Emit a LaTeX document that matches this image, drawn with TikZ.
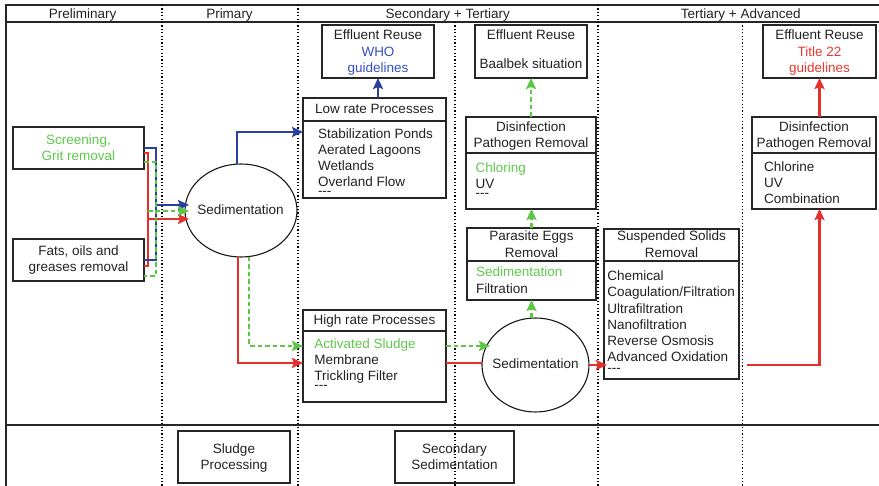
\documentclass[tikz,border=0pt]{standalone}
\usepackage{fontspec}
\setmainfont{Liberation Sans}
\usetikzlibrary{arrows.meta,shapes.geometric}
\definecolor{cblue}{HTML}{2B3F9F}
\definecolor{cred}{HTML}{E3302A}
\definecolor{cgreen}{HTML}{5BC743}
\definecolor{tblue}{HTML}{3550BE}
\definecolor{tred}{HTML}{E8382E}
\definecolor{tgreen}{HTML}{5DC94B}
\definecolor{txtc}{HTML}{222222}
\newcommand{\fsz}{\fontsize{13.5}{16.3}\selectfont}
\begin{document}
\begin{tikzpicture}[x=1pt,y=-1pt,
  frame/.style={draw=black!85, line width=1.2pt},
  dots/.style={draw=black, line width=1.1pt, dash pattern=on 1.2pt off 2.2pt},
  box/.style={draw=black!85, line width=1.2pt, inner sep=0pt, outer sep=0pt},
  sedbox/.style={ellipse, draw=black!90, line width=1.1pt, inner sep=0pt, outer sep=0pt},
  lbl/.style={inner sep=0pt, outer sep=0pt, anchor=base, align=center, font=\fsz, text=txtc},
  lbll/.style={inner sep=0pt, outer sep=0pt, anchor=base west, align=left, font=\fsz, text=txtc},
  bl/.style={draw=cblue, line width=2.6pt},
  rd/.style={draw=cred, line width=2.6pt},
  gr/.style={draw=cgreen, line width=2.6pt, dash pattern=on 4.5pt off 3pt},
  tip/.style={-{Stealth[length=11pt,width=10pt,inset=2pt]}},
]
\useasboundingbox (0,0) rectangle (879,486);
% frame
\draw[frame] (879,5) -- (6,5) -- (6,486);
\draw[frame] (6,22) -- (879,22);
\draw[frame] (6,425) -- (879,425);
% dotted column separators
\foreach \x in {162,298,598} \draw[dots] (\x,5) -- (\x,486);
\foreach \x in {455,742.5} \draw[dots] (\x,22) -- (\x,486);
% header labels
\node[lbl] (hpre) at (82.7,18.3) {Preliminary};
\node[lbl] (hpri) at (229.5,18.3) {Primary};
\node[lbl] (hsec) at (447.8,18.3) {Secondary + Tertiary};
\node[lbl] (hter) at (740.8,18.3) {Tertiary + Advanced};
% boxes
\node[box, minimum width=131, minimum height=42] (screen) at (78.5,148) {};
\node[box, minimum width=131, minimum height=42] (fats) at (78.5,260) {};
\node[box, minimum width=112, minimum height=53] (who) at (378,51.5) {};
\node[box, minimum width=112, minimum height=53] (baal) at (531,51.5) {};
\node[box, minimum width=113, minimum height=53] (t22) at (819.5,51.5) {};
\node[box, minimum width=143, minimum height=100] (low) at (374.5,148) {};
\node[box, minimum width=130, minimum height=92] (dis1) at (531,163) {};
\node[box, minimum width=129, minimum height=72] (para) at (531.5,264) {};
\node[box, minimum width=143, minimum height=92] (high) at (374.5,356) {};
\node[box, minimum width=135, minimum height=150] (ss) at (671.5,304) {};
\node[box, minimum width=124, minimum height=92] (dis2) at (814,163) {};
\node[box, minimum width=112, minimum height=52] (sludge) at (234,457) {};
\node[box, minimum width=119, minimum height=52] (secsed) at (454.5,457) {};
\node[sedbox, minimum width=112, minimum height=93] (sed1) at (241,210.5) {};
\node[sedbox, minimum width=107, minimum height=94] (sed2) at (535.5,365) {};
% dividers
\draw[box] (low.west |- 0,121) -- (low.east |- 0,121);
\draw[box] (dis1.west |- 0,153) -- (dis1.east |- 0,153);
\draw[box] (para.west |- 0,261) -- (para.east |- 0,261);
\draw[box] (high.west |- 0,331) -- (high.east |- 0,331);
\draw[box] (ss.west |- 0,261) -- (ss.east |- 0,261);
\draw[box] (dis2.west |- 0,153) -- (dis2.east |- 0,153);
% texts (anchor base = baseline of the last line)
\node[lbl, text=tgreen] (tscreen) at (78.5,160.7) {Screening,\\Grit removal};
\node[lbl] (tfats) at (78.5,271.7) {Fats, oils and\\greases removal};
\node[lbl] (tsed1) at (240.5,215) {Sedimentation};
\node[lbl] (twho1) at (378,40) {Effluent Reuse};
\node[lbl, text=tblue] (twho2) at (378,72.7) {WHO\\guidelines};
\node[lbl] (tbaal1) at (531,40) {Effluent Reuse};
\node[lbl] (tbaal2) at (531,68.7) {Baalbek situation};
\node[lbl] (tt221) at (819.5,40) {Effluent Reuse};
\node[lbl, text=tred] (tt222) at (819.5,72.7) {Title 22\\guidelines};
\node[lbl] (tlowh) at (374.5,113.3) {Low rate Processes};
\node[lbll] (tlowb) at (318,187) {Stabilization Ponds\\Aerated Lagoons\\Wetlands\\Overland Flow};
\node[lbll] (tlowd) at (318,196) {-{}-{}-};
\node[lbl] (tdis1h) at (531,147.7) {Disinfection\\Pathogen Removal};
\node[lbll] (tdis1b) at (475.7,189) {\textcolor{tgreen}{Chloring}\\UV};
\node[lbll] (tdis1d) at (475.7,198) {-{}-{}-};
\node[lbl] (tparah) at (531.5,257.3) {Parasite Eggs\\Removal};
\node[lbll] (tparab) at (476,293.3) {\textcolor{tgreen}{Sedimentation}\\Filtration};
\node[lbl] (thighh) at (374.5,325) {High rate Processes};
\node[lbll] (thighb) at (314.3,380.7) {\textcolor{tgreen}{Activated Sludge}\\Membrane\\Trickling Filter};
\node[lbll] (thighd) at (314.3,390) {-{}-{}-};
\node[lbl] (tsed2) at (535.5,368.3) {Sedimentation};
\node[lbl] (tssh) at (671.5,257.3) {Suspended Solids\\Removal};
\node[lbll] (tssb) at (607.3,362) {Chemical\\Coagulation/Filtration\\Ultrafiltration\\Nanofiltration\\Reverse Osmosis\\Advanced Oxidation};
\node[lbll] (tssd) at (607.3,372.5) {-{}-{}-};
\node[lbl] (tdis2h) at (814,147.7) {Disinfection\\Pathogen Removal};
\node[lbll] (tdis2b) at (764,204) {Chlorine\\UV\\Combination};
\node[lbl] (tsludge) at (234,470) {Sludge\\Processing};
\node[lbl] (tsecsed) at (454.5,470) {Secondary\\Sedimentation};
% red connectors
\draw[rd] ([yshift=-5pt]screen.east) -- ++(4,0) |- ([yshift=-6pt]fats.east);
\coordinate (rin) at (148,219);
\draw[rd,tip,shorten >=-4pt] (rin) -- (rin -| sed1.west);
\draw[rd,tip] ([xshift=-3pt]sed1.south) |- ([yshift=-7pt]high.west);
\coordinate (hr) at ([yshift=-7pt]high.east);
\draw[rd] (hr) -- (hr -| sed2.west);
\draw[rd,tip,shorten >=-3pt] (sed2.east) -- (sed2.east -| ss.west);
\path (ss.east |- sed2.east) ++(8,0) coordinate (rs);
\draw[rd,tip] (rs) -| (t22.south |- dis2.south);
\draw[rd,tip] (t22.south |- dis2.north) -- (t22.south);
% blue connectors
\draw[bl] (screen.east) -- ++(12,0) |- (fats.east);
\coordinate (bin) at (156,205);
\draw[bl,tip,shorten >=-4pt] (bin) -- (bin -| sed1.west);
\draw[bl,tip] ([xshift=-4pt]sed1.north) |- ([yshift=16pt]low.west);
\draw[bl,tip] (low.north -| who.south) -- (who.south);
% green connectors
\draw[gr] ([yshift=-14pt]screen.east) -- ++(12,0) |- ([yshift=-16pt]fats.east);
\coordinate (gin) at (148,211);
\draw[gr,tip,shorten >=-4pt] (gin) -- (gin -| sed1.west);
\draw[gr,tip] ([xshift=8pt]sed1.south) |- ([yshift=10pt]high.west);
\coordinate (hg) at ([yshift=10pt]high.east);
\draw[gr,tip,shorten >=-8pt] (hg) -- (hg -| sed2.west);
\draw[gr,tip] (sed2.north -| para.south) -- (para.south);
\draw[gr,tip] (para.north) -- (para.north |- dis1.south);
\draw[gr,tip] (dis1.north) -- (dis1.north |- baal.south);
\end{tikzpicture}
\end{document}
